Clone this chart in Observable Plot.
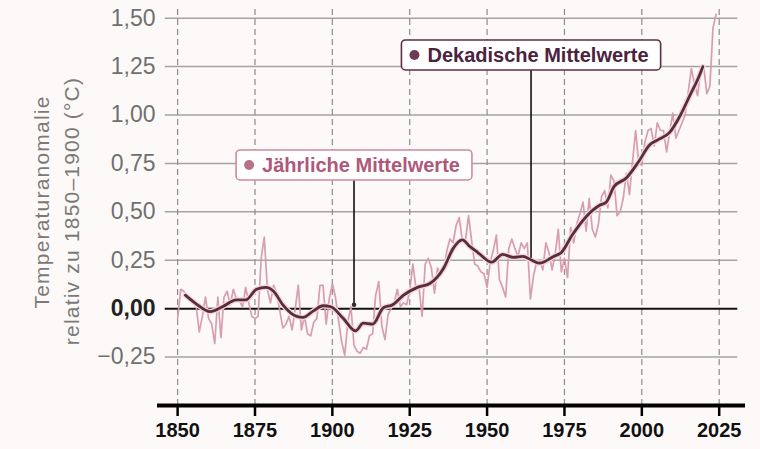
<!DOCTYPE html>
<html><head><meta charset="utf-8">
<script src="https://cdn.jsdelivr.net/npm/d3@7"></script>
<script src="https://cdn.jsdelivr.net/npm/@observablehq/plot@0.6"></script>
<style>
html,body{margin:0;padding:0;background:#fdf9f8;}
#chart svg{display:block;}
</style></head><body><div id="chart"></div>
<script>
// ---- data ----
const firstYear = 1850;
const annualValues = [
  -0.05, 0.10, 0.09, 0.06, 0.04, 0.03, 0.01, -0.12, -0.04, 0.06,
  -0.05, -0.08, -0.18, 0.06, -0.15, 0.06, 0.09, 0.02, 0.10, 0.05,
  0.04, 0.01, 0.11, 0.03, -0.04, -0.05, -0.04, 0.26, 0.37, 0.10,
  0.03, 0.12, 0.08, -0.01, -0.10, -0.08, -0.04, -0.11, 0.00, 0.12,
  -0.11, -0.04, -0.13, -0.14, -0.07, -0.05, 0.12, 0.12, -0.08, 0.05,
  0.13, 0.06, -0.06, -0.17, -0.24, -0.07, 0.01, -0.19, -0.22, -0.23,
  -0.20, -0.21, -0.14, -0.13, 0.07, 0.14, -0.09, -0.16, -0.03, 0.00,
  0.03, 0.10, 0.01, 0.03, 0.02, 0.09, 0.23, 0.11, 0.11, -0.04,
  0.23, 0.26, 0.21, 0.08, 0.21, 0.17, 0.20, 0.30, 0.36, 0.34,
  0.43, 0.47, 0.35, 0.35, 0.48, 0.35, 0.23, 0.22, 0.19, 0.18,
  0.11, 0.24, 0.30, 0.38, 0.15, 0.11, 0.06, 0.31, 0.36, 0.31,
  0.27, 0.34, 0.31, 0.34, 0.05, 0.17, 0.24, 0.25, 0.20, 0.34,
  0.29, 0.20, 0.28, 0.41, 0.19, 0.26, 0.16, 0.42, 0.34, 0.44,
  0.49, 0.55, 0.40, 0.57, 0.41, 0.37, 0.44, 0.58, 0.61, 0.52,
  0.69, 0.66, 0.48, 0.50, 0.57, 0.70, 0.59, 0.76, 0.92, 0.75,
  0.74, 0.86, 0.92, 0.93, 0.84, 0.96, 0.92, 0.92, 0.81, 0.91,
  1.01, 0.88, 0.92, 0.96, 1.00, 1.12, 1.24, 1.16, 1.10, 1.22,
  1.25, 1.11, 1.15, 1.45, 1.52
];
const decadalYears = [1852.5,1856,1860.5,1864.5,1869,1872,1875.5,1878.5,1881,1884,1888.5,1890.5,1894,1897,1899.5,1903.5,1907.5,1910,1913,1916.5,1919.5,1923,1927.5,1931.5,1936,1939,1942,1944.5,1947,1951.5,1955,1958.5,1961.5,1964.5,1967,1971.5,1974,1977.5,1982,1986.5,1988.5,1991,1995,1999,2002.5,2005,2009,2012.5,2015.5,2018.5,2019.7];
const decadalValues = [0.07,0.025,-0.015,0.01,0.045,0.045,0.10,0.11,0.09,0.02,-0.04,-0.045,-0.01,0.015,0.01,-0.05,-0.115,-0.075,-0.08,0.005,0.02,0.07,0.11,0.13,0.21,0.31,0.355,0.32,0.29,0.24,0.28,0.265,0.27,0.25,0.235,0.27,0.29,0.38,0.475,0.535,0.55,0.63,0.675,0.76,0.845,0.87,0.91,1.0,1.10,1.20,1.25];

const xTicks = [1850, 1875, 1900, 1925, 1950, 1975, 2000, 2025];
const yTicks = [-0.25, 0, 0.25, 0.5, 0.75, 1, 1.25, 1.5];
const yTickLabels = ["−0,25", "0,00", "0,25", "0,50", "0,75", "1,00", "1,25", "1,50"];
const yTitleLines = ["Temperaturanomalie", "relativ zu 1850–1900 (°C)"];

const labelTexts = ["Jährliche Mittelwerte", "Dekadische Mittelwerte"];
const labelYears = [1907, 1964.2];
const labelPointValues = [0.02, 0.26];
const labelBoxValues = [0.739, 1.307];
const labelBoxBottoms = [0.662, 1.23];

// ---- derived tables ----
const annual = annualValues.map((v, i) => ({year: firstYear + i, value: v}));
const decadal = decadalYears.map((y, i) => ({year: y, value: decadalValues[i]}));
const yTickData = yTicks.map((v, i) => ({value: v, label: yTickLabels[i]}));
const labelData = labelTexts.map((t, i) => ({text: t, year: labelYears[i], point: labelPointValues[i], box: labelBoxValues[i], bottom: labelBoxBottoms[i]}));

const FONT = "'Liberation Sans', Arial, sans-serif";
const labelStyle = [
  {text: "#b0587a", dot: "#b8718b", border: "#cf8ba0"},
  {text: "#4b2340", dot: "#6e3c55", border: "#5d2e44"}
];

const plot = Plot.plot({
  width: 760, height: 449,
  marginLeft: 157, marginRight: 15, marginTop: 8, marginBottom: 44,
  x: {domain: [1843.5, 2033.5], axis: null},
  y: {domain: [-0.5, 1.55], axis: null},
  style: {background: "transparent", fontFamily: FONT},
  marks: [
    Plot.ruleY(yTicks.filter(d => d !== 0), {x1: 1846, x2: 2031, stroke: "#a3a3a3", strokeWidth: 1.5}),
    Plot.ruleX(xTicks, {y1: -0.5, y2: 1.55, stroke: "#8c8c8c", strokeWidth: 1.2, strokeDasharray: "6,4"}),
    Plot.ruleY([0], {x1: 1846, x2: 2031, stroke: "#111", strokeWidth: 2}),
    Plot.line(annual, {x: "year", y: "value", stroke: "#d698ac", strokeWidth: 1.7, strokeOpacity: 0.95}),
    Plot.line(decadal, {x: "year", y: "value", stroke: "#efd6de", strokeWidth: 5.5, curve: "monotone-x"}),
    Plot.line(decadal, {x: "year", y: "value", stroke: "#5a2c3c", strokeWidth: 2.8, curve: "monotone-x"}),
    Plot.ruleX(labelData, {x: "year", y1: "point", y2: "bottom", stroke: "#111", strokeWidth: 1.6}),
    Plot.dot(labelData.slice(0, 1), {x: "year", y: "point", r: 2.3, fill: "#3a2a2a"}),
    Plot.text(labelData, {x: "year", y: "box", text: "text", dx: 7, fontSize: 20, fontWeight: "bold",
      fill: d => labelStyle[labelTexts.indexOf(d.text)].text}),
    // y tick labels
    Plot.text(yTickData.filter(d => d.value !== 0), {y: "value", text: "label", frameAnchor: "left", textAnchor: "end", dx: -2, fontSize: 23, fill: "#707070"}),
    Plot.text(yTickData.filter(d => d.value === 0), {y: "value", text: "label", frameAnchor: "left", textAnchor: "end", dx: -2, fontSize: 23, fontWeight: "bold", fill: "#222"}),
    // y title
    Plot.text([yTitleLines[0]], {frameAnchor: "left", textAnchor: "middle", rotate: -90, dx: -115, dy: -5, fontSize: 21, fill: "#7a7a7a", lineAnchor: "middle"}),
    Plot.text([yTitleLines[1]], {frameAnchor: "left", textAnchor: "middle", rotate: -90, dx: -85, dy: 4, fontSize: 21, fill: "#7a7a7a", lineAnchor: "middle"}),
    // x axis
    Plot.ruleY([-0.5], {x1: 1843.5, x2: 2033.5, stroke: "#000", strokeWidth: 4}),
    Plot.axisX(xTicks, {anchor: "bottom", label: null, tickSize: 11, tickPadding: 6, strokeWidth: 2.5, stroke: "#000", fill: "#111",
      fontSize: 20, fontWeight: "bold", tickFormat: d => String(d)})
  ]
});
document.getElementById("chart").appendChild(plot);

// title letter spacing
plot.querySelectorAll("text").forEach(t => {
  if (yTitleLines.includes(t.textContent)) t.setAttribute("letter-spacing", "1.2");
});

// boxes behind the annotation labels
const NS = "http://www.w3.org/2000/svg";
plot.querySelectorAll("text").forEach(t => {
  const idx = labelTexts.indexOf(t.textContent);
  if (idx < 0) return;
  const b = t.getBBox();
  const st = labelStyle[idx];
  const cy = b.y + b.height / 2;
  const rect = document.createElementNS(NS, "rect");
  rect.setAttribute("x", b.x - 26);
  rect.setAttribute("y", cy - 15);
  rect.setAttribute("width", b.width + 38);
  rect.setAttribute("height", 30);
  rect.setAttribute("rx", 4);
  rect.setAttribute("fill", "#fff");
  rect.setAttribute("stroke", st.border);
  rect.setAttribute("stroke-width", 1.6);
  const tr = t.getAttribute("transform");
  if (tr) rect.setAttribute("transform", tr);
  const c = document.createElementNS(NS, "circle");
  c.setAttribute("cx", b.x - 13);
  c.setAttribute("cy", cy);
  c.setAttribute("r", 5);
  c.setAttribute("fill", st.dot);
  if (tr) c.setAttribute("transform", tr);
  t.parentNode.insertBefore(rect, t);
  t.parentNode.insertBefore(c, t);
});
</script>
</body></html>
